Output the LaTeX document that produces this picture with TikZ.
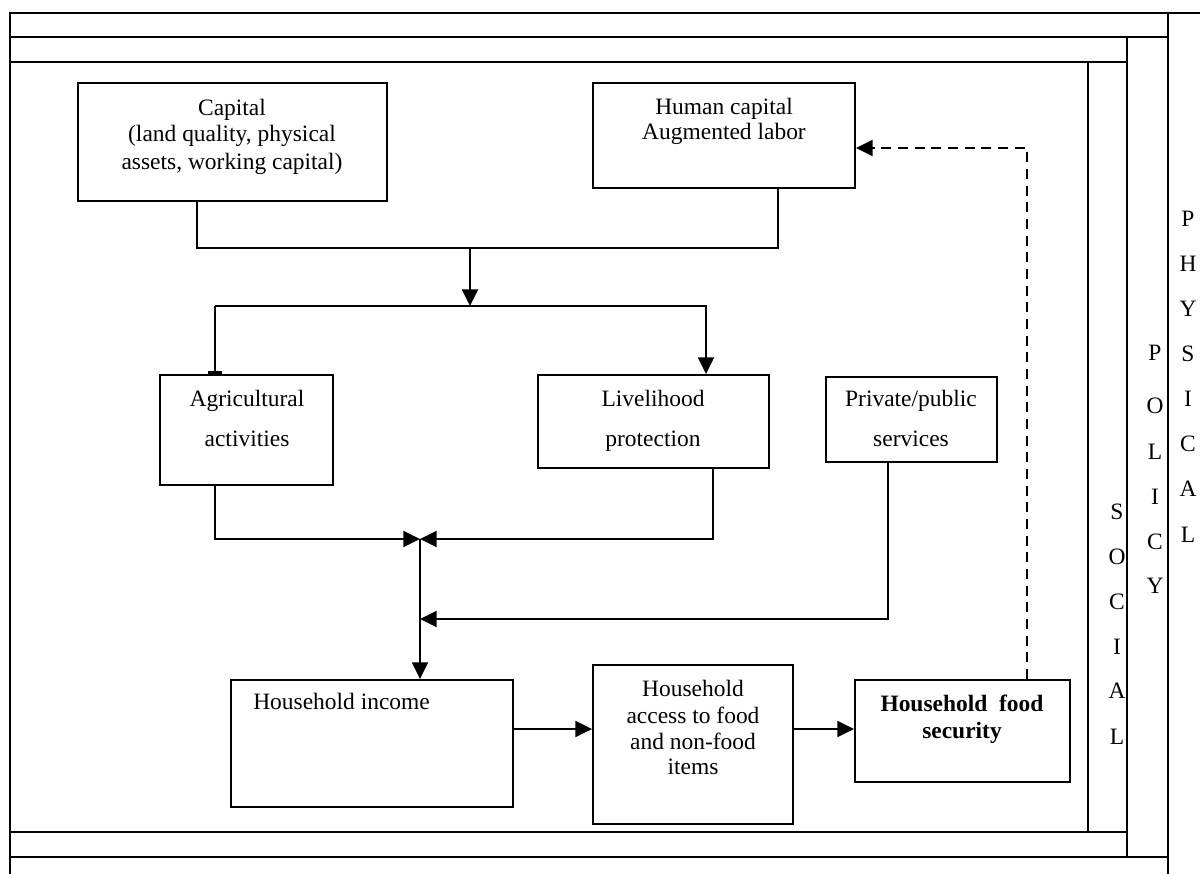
\documentclass[tikz,border=0pt]{standalone}
\usepackage{fontspec}
\setmainfont{Liberation Serif}
\usetikzlibrary{arrows.meta,fit}
\newcommand\bodyfont{\fontsize{17.6}{20}\selectfont}
\tikzset{
  frame/.style={line width=1.4pt, line cap=rect},
  box/.style={draw, line width=1.4pt, inner sep=0pt},
  conn/.style={line width=1.4pt},
  arr/.style={conn, -{Triangle[length=12.5pt,width=12pt]}},
  tee/.style={conn, -{Bar[width=11pt,line width=2pt]}},
  dsh/.style={arr, dash pattern=on 7.5pt off 5pt},
  lbl/.style={font=\bodyfont, inner sep=0pt, anchor=base},
  lblw/.style={lbl, anchor=base west},
}
\begin{document}
\begin{tikzpicture}[x=0.75pt,y=-0.75pt]
\useasboundingbox (0,0) rectangle (1200,874);
% nested frames
\draw[frame] (10,874) -- (10,13) -- (1200,13);
\draw[frame] (1168,13) -- (1168,874);
\draw[frame] (10,37) -- (1168,37);
\draw[frame] (1127,37) -- (1127,857);
\draw[frame] (10,62) -- (1127,62);
\draw[frame] (1088,62) -- (1088,832);
\draw[frame] (10,832) -- (1127,832);
\draw[frame] (10,857) -- (1168,857);
% vertical frame words
\foreach \ch/\y [count=\i] in {P/219,H/264,Y/309,S/354,I/399,C/444,A/489,L/535}
  \node[lbl] (phy\i) at (1188,\y+7) {\ch};
\foreach \ch/\y [count=\i] in {P/353,O/406,L/452,I/497,C/542,Y/586}
  \node[lbl] (pol\i) at (1155,\y+7) {\ch};
\foreach \ch/\y [count=\i] in {S/512,O/557,C/602,I/647,A/691,L/737}
  \node[lbl] (soc\i) at (1117,\y+7) {\ch};
% boxes
\node[box, fit={(78,83) (387,201)}] (cap) {};
\node[box, fit={(593,83) (855,188)}] (hum) {};
\node[box, fit={(160,375) (333,485)}] (agr) {};
\node[box, fit={(538,375) (769,468)}] (liv) {};
\node[box, fit={(826,377) (997,462)}] (pri) {};
\node[box, fit={(231,680) (513,807)}] (inc) {};
\node[box, fit={(593,665) (793,824)}] (acc) {};
\node[box, fit={(855,680) (1070,782)}] (hfs) {};
% texts
\node[lbl] (capt1) at (232,116) {Capital};
\node[lbl] (capt2) at (232,142) {(land quality, physical};
\node[lbl] (capt3) at (232,169) {assets, working capital)};
\node[lbl] (humt1) at (724,114) {Human capital};
\node[lbl] (humt2) at (724,139) {Augmented labor};
\node[lbl] (agrt1) at (247,406) {Agricultural};
\node[lbl] (agrt2) at (247,446) {activities};
\node[lbl] (livt1) at (653,406) {Livelihood};
\node[lbl] (livt2) at (653,446) {protection};
\node[lbl] (prit1) at (911,406) {Private/public};
\node[lbl] (prit2) at (911,446) {services};
\node[lblw] (inct1) at (253,709) {Household income};
\node[lbl] (acct1) at (693,696) {Household};
\node[lbl] (acct2) at (693,723) {access to food};
\node[lbl] (acct3) at (693,749) {and non-food};
\node[lbl] (acct4) at (693,774) {items};
\node[lbl, font=\bodyfont\bfseries] (hfst1) at (962,711) {Household\ \ food};
\node[lbl, font=\bodyfont\bfseries] (hfst2) at (962,738) {security};
% junction coordinates
\coordinate (j1) at (197,248);
\coordinate (j2) at (778,248);
\coordinate (j3) at (470,248);
\coordinate (j4) at (470,306);
\coordinate (j5) at (215,306);
\coordinate (j6) at (706,306);
\coordinate (m) at (420,539);
\coordinate (k1) at (713,539);
\coordinate (k2) at (888,619);
\coordinate (k3) at (420,619);
\coordinate (h) at (0,729);
\coordinate (d1) at (1027,148);
% connectors
\draw[conn] (cap.south -| j1) -- (j1) -- (j2) -- (hum.south -| j2);
\draw[arr] (j3) -- (j4);
\draw[tee] (j5) -- (agr.north -| j5);
\draw[arr] (j5) -- (j6) -- (liv.north -| j6);
\draw[arr] (agr.south -| j5) -- (j5 |- m) -- (m);
\draw[arr] (liv.south -| k1) -- (k1) -- (m);
\draw[arr] (m) -- (inc.north -| m);
\draw[arr] (pri.south -| k2) -- (k2) -- (k3);
\draw[arr] (inc.east |- h) -- (acc.west |- h);
\draw[arr] (acc.east |- h) -- (hfs.west |- h);
\draw[dsh] (hfs.north -| d1) -- (d1) -- (hum.east |- d1);
\end{tikzpicture}
\end{document}
